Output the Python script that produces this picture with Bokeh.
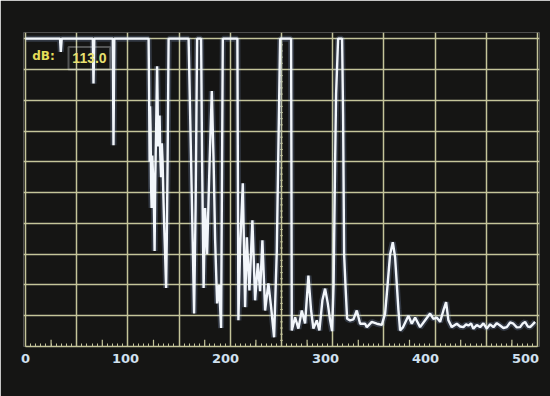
from bokeh.plotting import figure
from bokeh.models import Range1d, FixedTicker, Label, BoxAnnotation
from bokeh.embed import file_html
from bokeh.resources import INLINE

# ---- data (bin index 0..512, level in % of full scale; 100 = clipped at top) ----
freq = [0, 34.5, 35.3, 36.2, 67.3, 68, 68.8, 87.3, 88, 88.8,
        123.1, 123.6, 124.1, 124.6, 125.1, 125.6, 126.1, 126.8, 127.6, 128.3,
        129.1, 129.8, 130.6, 131.6, 132.1, 132.6, 133.3, 134.1, 134.8, 135.6,
        136.3, 137.1, 137.8, 138.6, 139.6, 140.6, 141.3, 142.1, 143.1,
        163.1, 165.6, 168.6, 170.1, 171.6,
        175.6, 176.6, 178.1, 179.6, 181.6, 184.1, 186.3, 188.1, 189.6, 191.6,
        193.6, 195.6, 197.3, 211.9, 212.9, 214.6, 217.3, 219.6, 221.3, 223.9,
        226.9, 229.6, 232.3, 234.6, 236.9, 239.6, 242.9, 245.6, 248.6, 251.3,
        254.6, 265.6, 266.3, 269.6, 272.9, 276.3, 279.6, 282.9, 285.6, 287.9,
        291.3, 293.9, 296.9, 299.6, 302.3, 304.6, 306.6, 308.1, 309.6, 310.6,
        312.6, 316.6, 317.6, 318.6, 320.1, 321.6, 324.6, 327.9, 331.3, 334.6,
        336.3, 339.6, 341.3, 346.3, 351.3, 356.3, 359.6, 361.9, 364.6, 367.3,
        369.6, 372.9, 374.6, 377.6, 382.9, 386.3, 389.6, 394.6, 399.6, 404.6,
        407.9, 411.3, 414.6, 417.9, 420.6, 422.9, 426.3, 431.3, 434.6, 437.9,
        440.6, 442.9, 445.6, 447.9, 451.3, 454.6, 457.9, 461.3, 464.6, 467.9,
        471.3, 474.6, 477.9, 481.3, 484.6, 487.9, 491.3, 494.6, 497.3, 499.6,
        502.3, 504.6, 507.3, 509.6]
level = [100, 100, 95.7, 100, 100, 85.4, 100, 100, 65.4, 100,
         100, 82, 60, 78, 70, 52, 45, 62, 55, 48,
         31, 55, 70, 91, 80, 65, 72, 75, 62, 55,
         66, 60, 50, 40, 30, 19, 35, 60, 100,
         100, 60, 10.7, 45, 100,
         100, 60, 19, 45, 30, 60, 83, 60, 35, 14,
         20, 6, 100, 100, 8.5, 32, 53, 12.8, 35.5, 18.2,
         41, 15, 27, 18, 34.5, 11.7, 20.5, 12.8, 3, 31,
         100, 100, 5.2, 9.5, 5.8, 11.7, 7.5, 23, 11.7, 5.8,
         8.5, 5.2, 15, 18.8, 14, 8.5, 5, 20, 60, 82,
         100, 100, 75, 30, 19, 9, 8.5, 8.8, 11.7, 7.4,
         7.4, 7.4, 6.3, 8, 7.4, 7, 10.7, 19.3, 30, 33.9,
         29, 12, 5.2, 6.3, 10, 7.4, 9.4, 6.3, 8.5, 10.7,
         9, 9.4, 8, 11.7, 14.4, 8.5, 6.3, 7.4, 6.5, 6.3,
         7.2, 6.8, 7.5, 5.8, 7, 6.3, 7.5, 5.8, 7.2, 6.3,
         7.6, 6.8, 6, 6.3, 7.8, 7.4, 6.2, 6.3, 7.5, 8,
         6.5, 6.3, 7.2, 8]
x_tick_labels = [0, 100, 200, 300, 400, 500]
x_max = 512
y_max = 100
divisions = 10
marker_label = "dB:"
marker_value = "113.0"

BG = "#151514"
GRID = "#c4c49a"
TRACE = "#f2f6fb"

p = figure(width=550, height=396, output_backend="svg", toolbar_location=None,
           x_range=Range1d(-2, x_max + 2), y_range=Range1d(0, y_max + 2),
           y_axis_location=None, min_border_left=23, min_border_right=11,
           min_border_top=32, min_border_bottom=50)
p.background_fill_color = BG
p.border_fill_color = BG
p.outline_line_color = None

xdiv = [i * x_max / divisions for i in range(divisions + 1)]
ydiv = [i * y_max / divisions for i in range(1, divisions + 1)]
p.xgrid.ticker = FixedTicker(ticks=xdiv)
p.ygrid.ticker = FixedTicker(ticks=ydiv)
for g in (p.xgrid, p.ygrid):
    g.grid_line_color = GRID
    g.grid_line_width = 1.5

minor = [i * x_max / (divisions * 10) for i in range(divisions * 10 + 1)]
ax = p.xaxis[0]
ax.ticker = FixedTicker(ticks=x_tick_labels, minor_ticks=minor)
ax.bounds = (0, x_max)
ax.axis_line_color = GRID
ax.axis_line_width = 1.5
ax.major_tick_in = 0
ax.major_tick_out = 0
ax.minor_tick_in = 3
ax.minor_tick_out = 0
ax.minor_tick_line_color = GRID
ax.major_label_standoff = 7
ax.major_label_text_color = "#cfe0ee"
ax.major_label_text_font = "DejaVu Sans"
ax.major_label_text_font_style = "bold"
ax.major_label_text_font_size = "13px"

# mid-division taller ticks on the bottom line
mids = [(i + 0.5) * x_max / divisions for i in range(divisions)]
p.segment(x0=mids, y0=[0] * len(mids), x1=mids, y1=[2.2] * len(mids),
          line_color=GRID, line_width=1.2)
# graticule ticks on centre vertical line
cy = [i * y_max / 50 for i in range(1, 50)]
cx = x_max / 2
p.segment(x0=[cx - 1.5] * len(cy), y0=cy, x1=[cx + 1.5] * len(cy), y1=cy,
          line_color=GRID, line_width=1, alpha=0.8)

# trace with glow
p.line(freq, level, line_color="#a9c6ff", line_width=6, line_alpha=0.2)
p.line(freq, level, line_color=TRACE, line_width=2.4)

# marker readout
p.add_layout(BoxAnnotation(left=43, right=84.6, bottom=90, top=97.3,
                           fill_alpha=0, line_color="#e6e8ea", line_width=2))
p.add_layout(Label(x=18, y=94.3, text=marker_label, text_align="center",
                   text_baseline="middle", text_color="#e4dc58",
                   text_font="DejaVu Sans", text_font_style="bold",
                   text_font_size="12px"))
p.add_layout(Label(x=64, y=93.8, text=marker_value, text_align="center",
                   text_baseline="middle", text_color="#e8e070",
                   text_font="Liberation Sans", text_font_style="bold",
                   text_font_size="14px"))

open("out.html", "w").write(file_html(p, INLINE))
